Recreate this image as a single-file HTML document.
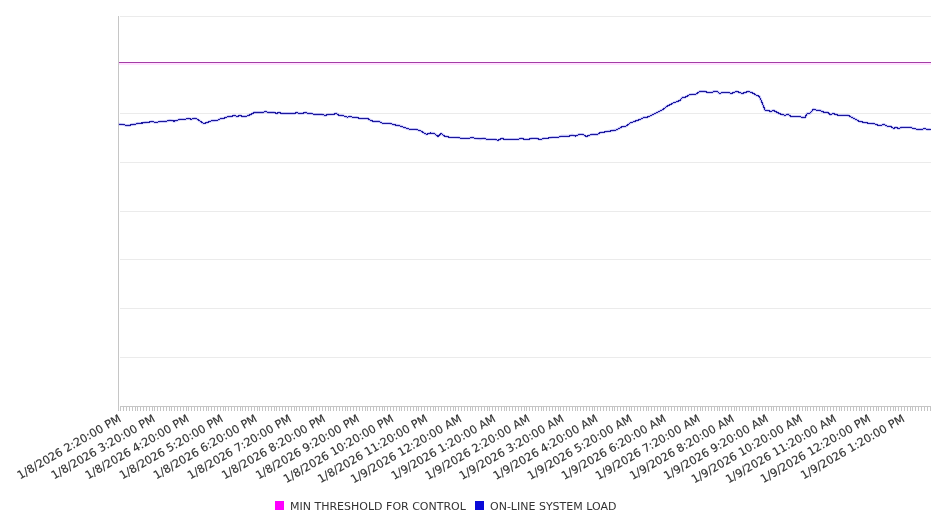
<!DOCTYPE html><html><head><meta charset="utf-8"><style>html,body{margin:0;padding:0;background:#fff;width:946px;height:526px;overflow:hidden}svg{display:block;will-change:transform}text{font-family:"DejaVu Sans","Liberation Sans",sans-serif}</style></head><body>
<svg width="946" height="526" viewBox="0 0 946 526">
<rect width="946" height="526" fill="#fff"/>
<path d="M120 16.5H931 M120 64.5H931 M120 113.5H931 M120 162.5H931 M120 211.5H931 M120 259.5H931 M120 308.5H931 M120 357.5H931" stroke="#ebebeb" stroke-width="1" fill="none"/>
<path d="M118.5 406V411 M120.5 406V411 M123.5 406V411 M126.5 406V411 M129.5 406V411 M132.5 406V411 M135.5 406V411 M137.5 406V411 M140.5 406V411 M143.5 406V411 M146.5 406V411 M149.5 406V411 M152.5 406V411 M154.5 406V411 M157.5 406V411 M160.5 406V411 M163.5 406V411 M166.5 406V411 M169.5 406V411 M171.5 406V411 M174.5 406V411 M177.5 406V411 M180.5 406V411 M183.5 406V411 M186.5 406V411 M188.5 406V411 M191.5 406V411 M194.5 406V411 M197.5 406V411 M200.5 406V411 M203.5 406V411 M206.5 406V411 M208.5 406V411 M211.5 406V411 M214.5 406V411 M217.5 406V411 M220.5 406V411 M223.5 406V411 M225.5 406V411 M228.5 406V411 M231.5 406V411 M234.5 406V411 M237.5 406V411 M240.5 406V411 M242.5 406V411 M245.5 406V411 M248.5 406V411 M251.5 406V411 M254.5 406V411 M257.5 406V411 M259.5 406V411 M262.5 406V411 M265.5 406V411 M268.5 406V411 M271.5 406V411 M274.5 406V411 M276.5 406V411 M279.5 406V411 M282.5 406V411 M285.5 406V411 M288.5 406V411 M291.5 406V411 M294.5 406V411 M296.5 406V411 M299.5 406V411 M302.5 406V411 M305.5 406V411 M308.5 406V411 M311.5 406V411 M313.5 406V411 M316.5 406V411 M319.5 406V411 M322.5 406V411 M325.5 406V411 M328.5 406V411 M330.5 406V411 M333.5 406V411 M336.5 406V411 M339.5 406V411 M342.5 406V411 M345.5 406V411 M347.5 406V411 M350.5 406V411 M353.5 406V411 M356.5 406V411 M359.5 406V411 M362.5 406V411 M365.5 406V411 M367.5 406V411 M370.5 406V411 M373.5 406V411 M376.5 406V411 M379.5 406V411 M382.5 406V411 M384.5 406V411 M387.5 406V411 M390.5 406V411 M393.5 406V411 M396.5 406V411 M399.5 406V411 M401.5 406V411 M404.5 406V411 M407.5 406V411 M410.5 406V411 M413.5 406V411 M416.5 406V411 M418.5 406V411 M421.5 406V411 M424.5 406V411 M427.5 406V411 M430.5 406V411 M433.5 406V411 M435.5 406V411 M438.5 406V411 M441.5 406V411 M444.5 406V411 M447.5 406V411 M450.5 406V411 M453.5 406V411 M455.5 406V411 M458.5 406V411 M461.5 406V411 M464.5 406V411 M467.5 406V411 M470.5 406V411 M472.5 406V411 M475.5 406V411 M478.5 406V411 M481.5 406V411 M484.5 406V411 M487.5 406V411 M489.5 406V411 M492.5 406V411 M495.5 406V411 M498.5 406V411 M501.5 406V411 M504.5 406V411 M506.5 406V411 M509.5 406V411 M512.5 406V411 M515.5 406V411 M518.5 406V411 M521.5 406V411 M524.5 406V411 M526.5 406V411 M529.5 406V411 M532.5 406V411 M535.5 406V411 M538.5 406V411 M541.5 406V411 M543.5 406V411 M546.5 406V411 M549.5 406V411 M552.5 406V411 M555.5 406V411 M558.5 406V411 M560.5 406V411 M563.5 406V411 M566.5 406V411 M569.5 406V411 M572.5 406V411 M575.5 406V411 M577.5 406V411 M580.5 406V411 M583.5 406V411 M586.5 406V411 M589.5 406V411 M592.5 406V411 M594.5 406V411 M597.5 406V411 M600.5 406V411 M603.5 406V411 M606.5 406V411 M609.5 406V411 M612.5 406V411 M614.5 406V411 M617.5 406V411 M620.5 406V411 M623.5 406V411 M626.5 406V411 M629.5 406V411 M631.5 406V411 M634.5 406V411 M637.5 406V411 M640.5 406V411 M643.5 406V411 M646.5 406V411 M648.5 406V411 M651.5 406V411 M654.5 406V411 M657.5 406V411 M660.5 406V411 M663.5 406V411 M665.5 406V411 M668.5 406V411 M671.5 406V411 M674.5 406V411 M677.5 406V411 M680.5 406V411 M682.5 406V411 M685.5 406V411 M688.5 406V411 M691.5 406V411 M694.5 406V411 M697.5 406V411 M700.5 406V411 M702.5 406V411 M705.5 406V411 M708.5 406V411 M711.5 406V411 M714.5 406V411 M717.5 406V411 M719.5 406V411 M722.5 406V411 M725.5 406V411 M728.5 406V411 M731.5 406V411 M734.5 406V411 M736.5 406V411 M739.5 406V411 M742.5 406V411 M745.5 406V411 M748.5 406V411 M751.5 406V411 M753.5 406V411 M756.5 406V411 M759.5 406V411 M762.5 406V411 M765.5 406V411 M768.5 406V411 M771.5 406V411 M773.5 406V411 M776.5 406V411 M779.5 406V411 M782.5 406V411 M785.5 406V411 M788.5 406V411 M790.5 406V411 M793.5 406V411 M796.5 406V411 M799.5 406V411 M802.5 406V411 M805.5 406V411 M807.5 406V411 M810.5 406V411 M813.5 406V411 M816.5 406V411 M819.5 406V411 M822.5 406V411 M824.5 406V411 M827.5 406V411 M830.5 406V411 M833.5 406V411 M836.5 406V411 M839.5 406V411 M841.5 406V411 M844.5 406V411 M847.5 406V411 M850.5 406V411 M853.5 406V411 M856.5 406V411 M859.5 406V411 M861.5 406V411 M864.5 406V411 M867.5 406V411 M870.5 406V411 M873.5 406V411 M876.5 406V411 M878.5 406V411 M881.5 406V411 M884.5 406V411 M887.5 406V411 M890.5 406V411 M893.5 406V411 M895.5 406V411 M898.5 406V411 M901.5 406V411 M904.5 406V411 M907.5 406V411 M910.5 406V411 M912.5 406V411 M915.5 406V411 M918.5 406V411 M921.5 406V411 M924.5 406V411 M927.5 406V411 M930.5 406V411" stroke="#c4c4c4" stroke-width="1" fill="none" shape-rendering="crispEdges"/>
<path d="M118.5 16V411M120 406.5H931" stroke="#c6c6c6" stroke-width="1" fill="none"/>
<rect x="119" y="63" width="812" height="1" fill="#ffe0ff"/><rect x="119" y="64" width="812" height="1" fill="#ffe3ff"/>
<rect x="119" y="62" width="812" height="1" fill="#a43ca6"/>
<path d="M118.7 124.1 L122.9 124.5 L126.6 125.4 L129.3 125.4 L131.9 124.6 L135.6 124.1 L137.7 123.3 L142.5 123.0 L145.7 122.4 L149.9 122.0 L152.0 121.5 L154.6 122.2 L157.3 122.2 L160.5 121.5 L165.7 121.4 L170.0 120.3 L174.2 121.1 L175.8 120.9 L180.0 119.3 L184.8 119.2 L188.5 118.5 L191.1 119.2 L194.8 118.3 L196.9 119.0 L203.3 123.3 L205.9 123.0 L211.2 120.9 L214.2 120.6 L217.4 120.3 L220.6 118.6 L223.7 118.3 L228.0 116.6 L231.1 116.4 L234.3 115.5 L237.0 116.4 L240.1 115.5 L242.2 116.4 L245.9 116.4 L250.2 114.8 L254.4 112.4 L259.7 112.4 L262.9 112.4 L265.5 111.4 L268.1 112.4 L274.0 112.4 L276.6 113.4 L279.2 112.5 L281.9 113.4 L294.6 113.4 L296.7 112.5 L299.3 113.4 L303.0 113.2 L305.7 112.5 L308.3 113.4 L311.3 113.4 L314.0 114.4 L321.9 114.4 L325.1 115.4 L328.3 114.5 L333.5 114.3 L336.2 113.4 L338.8 115.1 L343.1 115.6 L347.3 117.2 L349.9 116.4 L352.6 117.2 L356.8 117.4 L360.0 118.5 L367.4 118.5 L371.1 120.6 L373.7 121.4 L379.0 121.4 L382.7 123.3 L389.6 123.3 L394.9 124.9 L399.1 125.6 L404.2 127.4 L409.5 129.2 L415.9 129.2 L421.1 131.1 L426.4 134.3 L430.7 133.0 L433.8 133.3 L438.1 136.4 L441.2 133.5 L444.4 136.1 L449.7 137.3 L458.1 137.5 L461.3 138.3 L468.7 138.3 L472.4 137.5 L475.1 138.3 L480.3 138.9 L484.0 138.3 L486.7 139.3 L495.1 139.3 L498.0 140.4 L501.9 138.3 L504.5 139.3 L518.3 139.3 L521.4 138.3 L524.6 139.3 L528.8 139.3 L532.0 138.3 L536.2 138.3 L539.4 139.3 L541.5 139.3 L543.6 138.3 L548.9 138.0 L552.6 137.2 L558.4 137.2 L561.1 136.1 L569.0 136.1 L572.2 135.1 L575.3 136.1 L579.6 134.3 L582.7 134.3 L586.4 136.5 L591.2 134.6 L593.2 134.3 L597.4 134.4 L600.6 132.5 L604.8 132.0 L608.0 131.3 L611.1 130.9 L616.4 129.9 L621.7 127.0 L625.9 126.2 L630.2 123.0 L634.4 121.4 L639.7 119.6 L643.9 117.4 L647.1 117.2 L651.3 115.4 L657.7 112.2 L662.9 109.6 L667.2 106.1 L673.5 102.9 L679.9 100.5 L682.6 97.4 L685.3 97.2 L689.5 94.8 L692.7 94.3 L695.9 94.1 L700.1 91.4 L704.3 91.3 L708.0 92.5 L711.7 92.5 L714.4 91.3 L717.0 91.3 L719.6 93.5 L722.3 92.5 L728.6 92.5 L731.3 93.5 L736.6 91.4 L742.4 93.4 L748.2 91.4 L751.9 92.5 L756.1 95.1 L759.3 96.4 L761.4 101.1 L765.1 110.3 L768.8 110.7 L770.4 111.5 L773.6 110.4 L779.2 113.5 L785.0 115.4 L788.2 114.2 L790.9 116.5 L799.8 116.5 L802.0 117.4 L805.1 117.4 L807.2 113.5 L809.9 113.3 L813.6 109.1 L816.8 110.3 L819.4 110.3 L824.2 112.2 L827.3 112.2 L830.5 114.6 L833.1 113.5 L838.4 115.3 L847.9 115.3 L852.2 117.5 L859.1 121.2 L864.2 122.5 L869.3 123.3 L873.8 123.6 L878.4 125.3 L881.5 125.3 L884.0 124.3 L887.5 126.3 L890.6 126.3 L893.6 128.5 L895.7 127.3 L898.7 128.5 L901.8 127.3 L910.4 127.3 L912.9 128.3 L918.0 129.4 L922.0 129.4 L924.6 128.5 L927.1 129.4 L930.7 129.4" stroke="#2828e0" stroke-opacity="0.3" stroke-width="2.6" fill="none" stroke-linejoin="round"/>
<path d="M118.7 124.1 L122.9 124.5 L126.6 125.4 L129.3 125.4 L131.9 124.6 L135.6 124.1 L137.7 123.3 L142.5 123.0 L145.7 122.4 L149.9 122.0 L152.0 121.5 L154.6 122.2 L157.3 122.2 L160.5 121.5 L165.7 121.4 L170.0 120.3 L174.2 121.1 L175.8 120.9 L180.0 119.3 L184.8 119.2 L188.5 118.5 L191.1 119.2 L194.8 118.3 L196.9 119.0 L203.3 123.3 L205.9 123.0 L211.2 120.9 L214.2 120.6 L217.4 120.3 L220.6 118.6 L223.7 118.3 L228.0 116.6 L231.1 116.4 L234.3 115.5 L237.0 116.4 L240.1 115.5 L242.2 116.4 L245.9 116.4 L250.2 114.8 L254.4 112.4 L259.7 112.4 L262.9 112.4 L265.5 111.4 L268.1 112.4 L274.0 112.4 L276.6 113.4 L279.2 112.5 L281.9 113.4 L294.6 113.4 L296.7 112.5 L299.3 113.4 L303.0 113.2 L305.7 112.5 L308.3 113.4 L311.3 113.4 L314.0 114.4 L321.9 114.4 L325.1 115.4 L328.3 114.5 L333.5 114.3 L336.2 113.4 L338.8 115.1 L343.1 115.6 L347.3 117.2 L349.9 116.4 L352.6 117.2 L356.8 117.4 L360.0 118.5 L367.4 118.5 L371.1 120.6 L373.7 121.4 L379.0 121.4 L382.7 123.3 L389.6 123.3 L394.9 124.9 L399.1 125.6 L404.2 127.4 L409.5 129.2 L415.9 129.2 L421.1 131.1 L426.4 134.3 L430.7 133.0 L433.8 133.3 L438.1 136.4 L441.2 133.5 L444.4 136.1 L449.7 137.3 L458.1 137.5 L461.3 138.3 L468.7 138.3 L472.4 137.5 L475.1 138.3 L480.3 138.9 L484.0 138.3 L486.7 139.3 L495.1 139.3 L498.0 140.4 L501.9 138.3 L504.5 139.3 L518.3 139.3 L521.4 138.3 L524.6 139.3 L528.8 139.3 L532.0 138.3 L536.2 138.3 L539.4 139.3 L541.5 139.3 L543.6 138.3 L548.9 138.0 L552.6 137.2 L558.4 137.2 L561.1 136.1 L569.0 136.1 L572.2 135.1 L575.3 136.1 L579.6 134.3 L582.7 134.3 L586.4 136.5 L591.2 134.6 L593.2 134.3 L597.4 134.4 L600.6 132.5 L604.8 132.0 L608.0 131.3 L611.1 130.9 L616.4 129.9 L621.7 127.0 L625.9 126.2 L630.2 123.0 L634.4 121.4 L639.7 119.6 L643.9 117.4 L647.1 117.2 L651.3 115.4 L657.7 112.2 L662.9 109.6 L667.2 106.1 L673.5 102.9 L679.9 100.5 L682.6 97.4 L685.3 97.2 L689.5 94.8 L692.7 94.3 L695.9 94.1 L700.1 91.4 L704.3 91.3 L708.0 92.5 L711.7 92.5 L714.4 91.3 L717.0 91.3 L719.6 93.5 L722.3 92.5 L728.6 92.5 L731.3 93.5 L736.6 91.4 L742.4 93.4 L748.2 91.4 L751.9 92.5 L756.1 95.1 L759.3 96.4 L761.4 101.1 L765.1 110.3 L768.8 110.7 L770.4 111.5 L773.6 110.4 L779.2 113.5 L785.0 115.4 L788.2 114.2 L790.9 116.5 L799.8 116.5 L802.0 117.4 L805.1 117.4 L807.2 113.5 L809.9 113.3 L813.6 109.1 L816.8 110.3 L819.4 110.3 L824.2 112.2 L827.3 112.2 L830.5 114.6 L833.1 113.5 L838.4 115.3 L847.9 115.3 L852.2 117.5 L859.1 121.2 L864.2 122.5 L869.3 123.3 L873.8 123.6 L878.4 125.3 L881.5 125.3 L884.0 124.3 L887.5 126.3 L890.6 126.3 L893.6 128.5 L895.7 127.3 L898.7 128.5 L901.8 127.3 L910.4 127.3 L912.9 128.3 L918.0 129.4 L922.0 129.4 L924.6 128.5 L927.1 129.4 L930.7 129.4" stroke="#1c189e" stroke-width="1.1" fill="none" stroke-linejoin="round" shape-rendering="crispEdges"/>
<text x="121.8" y="420.8" font-size="11.25" fill="#333" stroke="#333" stroke-width="0.15" text-anchor="end" transform="rotate(-30 121.8 420.8)">1/8/2026 2:20:00 PM</text>
<text x="155.8" y="420.8" font-size="11.25" fill="#333" stroke="#333" stroke-width="0.15" text-anchor="end" transform="rotate(-30 155.8 420.8)">1/8/2026 3:20:00 PM</text>
<text x="189.9" y="420.8" font-size="11.25" fill="#333" stroke="#333" stroke-width="0.15" text-anchor="end" transform="rotate(-30 189.9 420.8)">1/8/2026 4:20:00 PM</text>
<text x="224.0" y="420.8" font-size="11.25" fill="#333" stroke="#333" stroke-width="0.15" text-anchor="end" transform="rotate(-30 224.0 420.8)">1/8/2026 5:20:00 PM</text>
<text x="258.0" y="420.8" font-size="11.25" fill="#333" stroke="#333" stroke-width="0.15" text-anchor="end" transform="rotate(-30 258.0 420.8)">1/8/2026 6:20:00 PM</text>
<text x="292.1" y="420.8" font-size="11.25" fill="#333" stroke="#333" stroke-width="0.15" text-anchor="end" transform="rotate(-30 292.1 420.8)">1/8/2026 7:20:00 PM</text>
<text x="326.2" y="420.8" font-size="11.25" fill="#333" stroke="#333" stroke-width="0.15" text-anchor="end" transform="rotate(-30 326.2 420.8)">1/8/2026 8:20:00 PM</text>
<text x="360.2" y="420.8" font-size="11.25" fill="#333" stroke="#333" stroke-width="0.15" text-anchor="end" transform="rotate(-30 360.2 420.8)">1/8/2026 9:20:00 PM</text>
<text x="394.3" y="420.8" font-size="11.25" fill="#333" stroke="#333" stroke-width="0.15" text-anchor="end" transform="rotate(-30 394.3 420.8)">1/8/2026 10:20:00 PM</text>
<text x="428.4" y="420.8" font-size="11.25" fill="#333" stroke="#333" stroke-width="0.15" text-anchor="end" transform="rotate(-30 428.4 420.8)">1/8/2026 11:20:00 PM</text>
<text x="462.4" y="420.8" font-size="11.25" fill="#333" stroke="#333" stroke-width="0.15" text-anchor="end" transform="rotate(-30 462.4 420.8)">1/9/2026 12:20:00 AM</text>
<text x="496.5" y="420.8" font-size="11.25" fill="#333" stroke="#333" stroke-width="0.15" text-anchor="end" transform="rotate(-30 496.5 420.8)">1/9/2026 1:20:00 AM</text>
<text x="530.6" y="420.8" font-size="11.25" fill="#333" stroke="#333" stroke-width="0.15" text-anchor="end" transform="rotate(-30 530.6 420.8)">1/9/2026 2:20:00 AM</text>
<text x="564.7" y="420.8" font-size="11.25" fill="#333" stroke="#333" stroke-width="0.15" text-anchor="end" transform="rotate(-30 564.7 420.8)">1/9/2026 3:20:00 AM</text>
<text x="598.7" y="420.8" font-size="11.25" fill="#333" stroke="#333" stroke-width="0.15" text-anchor="end" transform="rotate(-30 598.7 420.8)">1/9/2026 4:20:00 AM</text>
<text x="632.8" y="420.8" font-size="11.25" fill="#333" stroke="#333" stroke-width="0.15" text-anchor="end" transform="rotate(-30 632.8 420.8)">1/9/2026 5:20:00 AM</text>
<text x="666.9" y="420.8" font-size="11.25" fill="#333" stroke="#333" stroke-width="0.15" text-anchor="end" transform="rotate(-30 666.9 420.8)">1/9/2026 6:20:00 AM</text>
<text x="700.9" y="420.8" font-size="11.25" fill="#333" stroke="#333" stroke-width="0.15" text-anchor="end" transform="rotate(-30 700.9 420.8)">1/9/2026 7:20:00 AM</text>
<text x="735.0" y="420.8" font-size="11.25" fill="#333" stroke="#333" stroke-width="0.15" text-anchor="end" transform="rotate(-30 735.0 420.8)">1/9/2026 8:20:00 AM</text>
<text x="769.1" y="420.8" font-size="11.25" fill="#333" stroke="#333" stroke-width="0.15" text-anchor="end" transform="rotate(-30 769.1 420.8)">1/9/2026 9:20:00 AM</text>
<text x="803.1" y="420.8" font-size="11.25" fill="#333" stroke="#333" stroke-width="0.15" text-anchor="end" transform="rotate(-30 803.1 420.8)">1/9/2026 10:20:00 AM</text>
<text x="837.2" y="420.8" font-size="11.25" fill="#333" stroke="#333" stroke-width="0.15" text-anchor="end" transform="rotate(-30 837.2 420.8)">1/9/2026 11:20:00 AM</text>
<text x="871.3" y="420.8" font-size="11.25" fill="#333" stroke="#333" stroke-width="0.15" text-anchor="end" transform="rotate(-30 871.3 420.8)">1/9/2026 12:20:00 PM</text>
<text x="905.4" y="420.8" font-size="11.25" fill="#333" stroke="#333" stroke-width="0.15" text-anchor="end" transform="rotate(-30 905.4 420.8)">1/9/2026 1:20:00 PM</text>
<rect x="275" y="501" width="9" height="9" fill="#ff00ff"/>
<text x="290" y="510" font-size="11" fill="#333">MIN THRESHOLD FOR CONTROL</text>
<rect x="475" y="501" width="9" height="9" fill="#0a0ad8"/>
<text x="490" y="510" font-size="11" fill="#333">ON-LINE SYSTEM LOAD</text>
</svg></body></html>
